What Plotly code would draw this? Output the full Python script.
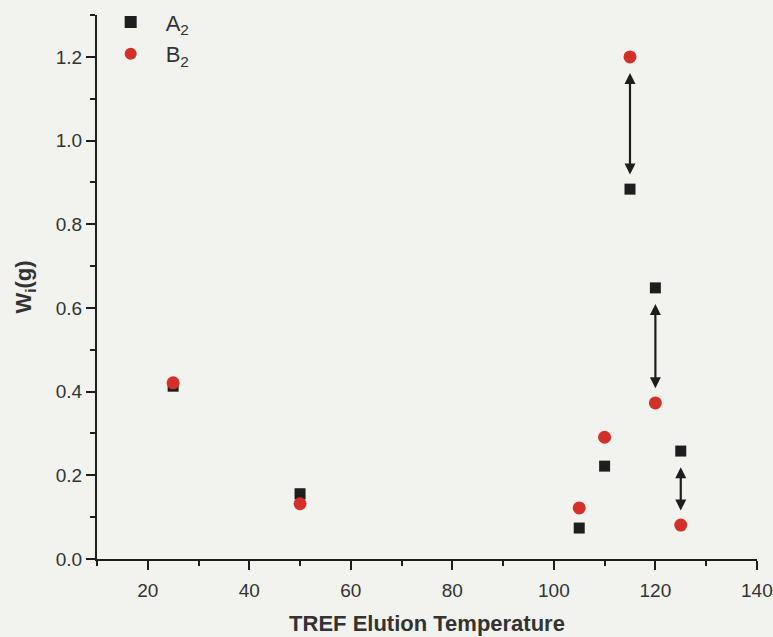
import plotly.graph_objects as go

# TREF fractions: elution temperature (°C) and weight per fraction (g)
temps = [25, 50, 105, 110, 115, 120, 125]
w_a2 = [0.413, 0.156, 0.074, 0.222, 0.884, 0.648, 0.258]
w_b2 = [0.421, 0.132, 0.122, 0.291, 1.200, 0.373, 0.081]

# fractions where the change between A2 and B2 is highlighted by a double arrow
arrow_temps = [115, 120, 125]

ink = "#1e1e1e"
txt = "#333333"
red = "#d3302a"
font = "Liberation Sans, Arial, sans-serif"

fig = go.Figure()
fig.add_trace(go.Scatter(
    x=temps, y=w_a2, mode="markers", name="A<sub>2</sub>",
    marker=dict(symbol="square", size=11, color=ink),
))
fig.add_trace(go.Scatter(
    x=temps, y=w_b2, mode="markers", name="B<sub>2</sub>",
    marker=dict(symbol="circle", size=13, color=red),
))

# double-headed arrows between the paired points, leaving a small gap at each end
gap = 0.035
for t in arrow_temps:
    i = temps.index(t)
    hi = max(w_a2[i], w_b2[i])
    lo = min(w_a2[i], w_b2[i])
    fig.add_annotation(
        x=t, y=lo + gap, ax=t, ay=hi - gap,
        xref="x", yref="y", axref="x", ayref="y",
        text="", showarrow=True,
        arrowhead=2, startarrowhead=2, arrowside="end+start",
        arrowsize=1.0, startarrowsize=1.0, arrowwidth=2.2, arrowcolor=ink,
    )

axis_common = dict(
    showline=True, linecolor=ink, linewidth=2,
    ticks="outside", tickcolor=ink, tickwidth=2, ticklen=9,
    showgrid=False, zeroline=False, mirror=False, automargin=False,
    ticklabeloverflow="allow",
    tickfont=dict(family=font, size=19, color=txt),
)

fig.update_xaxes(
    range=[10, 140.02], tick0=20, dtick=20, ticklabelstandoff=4,
    minor=dict(ticks="outside", tick0=10, dtick=10, ticklen=5,
               tickcolor=ink, tickwidth=2, showgrid=False),
    title=dict(text="<b>TREF Elution Temperature</b>",
               font=dict(family=font, size=22, color=txt), standoff=16),
    **axis_common,
)
fig.update_yaxes(
    range=[0, 1.3002], tick0=0, dtick=0.2, tickformat=".1f",
    minor=dict(ticks="outside", tick0=0, dtick=0.1, ticklen=5,
               tickcolor=ink, tickwidth=2, showgrid=False),
    title=dict(text="<b>W<sub>i</sub>(g)</b>",
               font=dict(family=font, size=22, color=txt), standoff=18),
    **axis_common,
)

fig.update_layout(
    width=773, height=637,
    margin=dict(l=97, r=16, t=15, b=78, autoexpand=False),
    paper_bgcolor="#f2f2ee", plot_bgcolor="#f2f2ee",
    showlegend=True,
    legend=dict(x=-0.002, y=0.998, xanchor="left", yanchor="top",
                yref="container",
                bgcolor="rgba(0,0,0,0)", itemsizing="constant",
                itemwidth=60,
                font=dict(family=font, size=22, color=txt)),
)

fig.write_html("out.html")
